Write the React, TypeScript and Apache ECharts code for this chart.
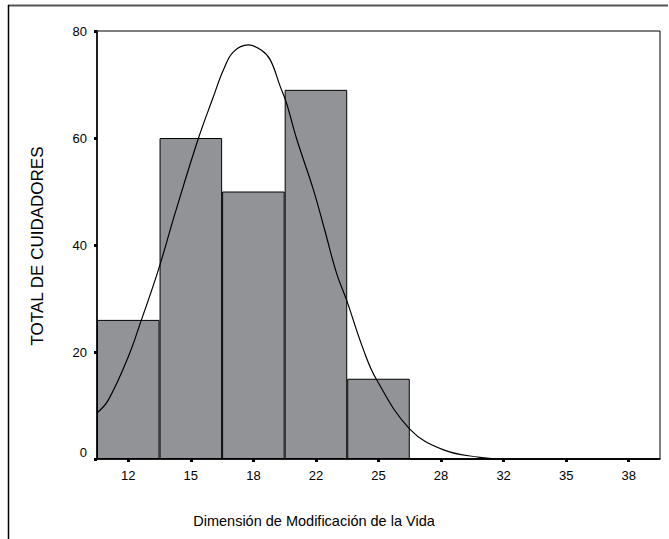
import React, { useEffect, useRef } from "react";
import * as echarts from "echarts";

// Bin labels (midpoints) of the histogram
const binLabels = ["12", "15", "18", "22", "25", "28", "32", "35", "38"];
// Number of caregivers per bin
const binCounts = [26, 60, 50, 69, 15, 0, 0, 0, 0];
// Fitted normal curve, sampled along the x range (x in bin widths from the left edge)
const curveX = [0, 0.18, 0.5, 0.71, 0.98, 1.25, 1.62, 1.86, 2.02, 2.18, 2.42, 2.63, 2.77, 2.93, 3.03, 3.19, 3.46, 3.64, 3.83, 3.99, 4.26, 4.47, 5.0, 5.54, 6.12, 6.36];
const curveY = [8.6, 11.0, 19.1, 26.0, 35.3, 46.0, 59.9, 67.7, 72.7, 76.1, 77.4, 76.4, 74.6, 69.6, 66.5, 59.9, 50.3, 42.8, 34.7, 29.7, 20.4, 14.8, 5.6, 1.7, 0.3, 0.05];
// Y axis ticks
const yMin = 0;
const yMax = 80;
const yStep = 20;

const xTitle = "Dimensión de Modificación de la Vida";
const yTitle = "TOTAL DE CUIDADORES";

const FONT = "'Liberation Sans', Arial, sans-serif";

export default function App() {
  const ref = useRef<HTMLDivElement>(null);

  useEffect(() => {
    if (!ref.current) return;
    const chart = echarts.init(ref.current, undefined, { renderer: "svg" });

    chart.setOption({
      animation: false,
      backgroundColor: "#ffffff",
      textStyle: { fontFamily: FONT },
      grid: {
        left: 97,
        top: 31,
        right: 9,
        bottom: 80,
        show: true,
        borderColor: "#000",
        borderWidth: 1,
        containLabel: false,
      },
      xAxis: [
        {
          type: "category",
          data: binLabels,
          boundaryGap: true,
          axisLine: { show: true, lineStyle: { color: "#000", width: 1.5 } },
          axisTick: {
            show: true,
            alignWithLabel: true,
            length: 3,
            lineStyle: { color: "#000", width: 3 },
          },
          axisLabel: {
            color: "#000",
            fontSize: 13,
            fontFamily: FONT,
            margin: 10,
          },
          splitLine: { show: false },
        },
        {
          type: "value",
          min: 0,
          max: binLabels.length,
          show: false,
          position: "bottom",
          splitLine: { show: false },
        },
      ],
      yAxis: {
        type: "value",
        min: yMin,
        max: yMax,
        interval: yStep,
        axisLine: { show: true, lineStyle: { color: "#000", width: 1.5 } },
        axisTick: { show: true, length: 3, lineStyle: { color: "#000", width: 3 } },
        axisLabel: {
          color: "#000",
          fontSize: 13,
          fontFamily: FONT,
          margin: 10,
          // the zero label sits a little above the baseline
          formatter: (v: number) => (v === 0 ? "{z|0}" : "{n|" + v + "}"),
          rich: {
            z: { fontSize: 13, fontFamily: FONT, color: "#000", padding: [0, 0, 14, 0] },
            n: { fontSize: 13, fontFamily: FONT, color: "#000" },
          },
        },
        splitLine: { show: false },
      },
      series: [
        {
          type: "bar",
          xAxisIndex: 0,
          data: binCounts,
          barWidth: "100%",
          barCategoryGap: "0%",
          itemStyle: { color: "#929397", borderColor: "#000", borderWidth: 1 },
          silent: true,
        },
        {
          type: "line",
          xAxisIndex: 1,
          data: curveX.map((x, i) => [x, curveY[i]]),
          smooth: 0.4,
          symbol: "none",
          lineStyle: { color: "#000", width: 1.2 },
          silent: true,
          z: 5,
        },
      ],
      graphic: [
        // outer chart frame
        {
          type: "line",
          shape: { x1: 8, y1: 5.5, x2: 668, y2: 5.5 },
          style: { stroke: "#555", lineWidth: 2 },
        },
        {
          type: "line",
          shape: { x1: 8.5, y1: 5, x2: 8.5, y2: 539 },
          style: { stroke: "#000", lineWidth: 1.5 },
        },
        {
          type: "text",
          x: 314,
          y: 521,
          style: {
            text: xTitle,
            fontSize: 14.5,
            fontFamily: FONT,
            fill: "#000",
            align: "center",
            verticalAlign: "middle",
          },
        },
        {
          type: "text",
          x: 37,
          y: 246,
          rotation: Math.PI / 2,
          style: {
            text: yTitle,
            fontSize: 17,
            fontFamily: FONT,
            fill: "#000",
            align: "center",
            verticalAlign: "middle",
          },
        },
      ],
    });
    return () => chart.dispose();
  }, []);

  return (
    <div
      ref={ref}
      style={{ position: "fixed", left: 0, top: 0, width: 669, height: 539 }}
    />
  );
}
